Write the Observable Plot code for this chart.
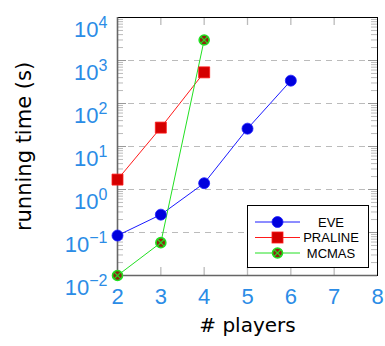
<!DOCTYPE html>
<html><head><meta charset="utf-8">
<script src="https://cdn.jsdelivr.net/npm/d3@7"></script>
<script src="https://cdn.jsdelivr.net/npm/@observablehq/plot@0.6"></script>
<style>body{margin:0;background:#fff;} #chart{width:385px;height:346px;}</style>
</head><body><div id="chart"></div>
<script>
// ---- data ----
const seriesNames = ["EVE", "PRALINE", "MCMAS"];
const evePlayers = [2, 3, 4, 5, 6];
const eveTimes = [0.085, 0.26, 1.4, 26, 340];
const pralinePlayers = [2, 3, 4];
const pralineTimes = [1.7, 27.5, 530];
const mcmasPlayers = [2, 3, 4];
const mcmasTimes = [0.01, 0.058, 3000];
const xTicks = [2, 3, 4, 5, 6, 7, 8];
const yTicks = [0.01, 0.1, 1, 10, 100, 1000, 10000];
const yTickLabels = ["10^\u22122", "10^\u22121", "10^0", "10^1", "10^2", "10^3", "10^4"];
const xLabel = "# players";
const yLabel = "running time (s)";

// ---- layout / style ----
const W = 385, H = 346, mL = 117, mR = 8, mT = 17, mB = 71;
const plotW = W - mL - mR, plotH = H - mT - mB;
const tickBlue = "#2b8ce6";
const tickFont = "Liberation Sans";
const colors = {EVE: {line: "#1a1aff", fill: "#0000dd"}, PRALINE: {line: "#ff1a1a", fill: "#d40000"}, MCMAS: {line: "#22e022", fill: "#8b2a10"}};

const eve = evePlayers.map((p, i) => ({p, t: eveTimes[i]}));
const praline = pralinePlayers.map((p, i) => ({p, t: pralineTimes[i]}));
const mcmas = mcmasPlayers.map((p, i) => ({p, t: mcmasTimes[i]}));

const minor = [];
for (let k = 0; k < yTicks.length - 1; k++) for (let m = 2; m <= 9; m++) minor.push(yTicks[k] * m);
const majorInner = yTicks.slice(1, -1);
const xInner = xTicks.slice(1, -1);

const chart = Plot.plot({
  width: W, height: H, marginLeft: mL, marginRight: mR, marginTop: mT, marginBottom: mB,
  style: {fontFamily: "DejaVu Sans", background: "white"},
  x: {domain: [2, 8]},
  y: {type: "log", domain: [0.01, 10000]},
  marks: [
    Plot.ruleY(majorInner, {stroke: "#bbb", strokeDasharray: "6,5", strokeWidth: 1.2}),
    Plot.ruleY(minor, {stroke: "#bbb", insetRight: plotW - 6}),
    Plot.ruleY(minor, {stroke: "#bbb", insetLeft: plotW - 6}),
    Plot.ruleY(majorInner, {stroke: "#999", insetRight: plotW - 9}),
    Plot.ruleY(majorInner, {stroke: "#999", insetLeft: plotW - 9}),
    Plot.ruleX(xInner, {stroke: "#bbb", strokeWidth: 1.3, insetTop: plotH - 8}),
    Plot.ruleX(xInner, {stroke: "#bbb", strokeWidth: 1.3, insetBottom: plotH - 8}),
    Plot.frame({stroke: "black"}),
    Plot.ruleX([2], {stroke: "#666", strokeWidth: 1.6}),
    Plot.ruleY([0.01], {stroke: "#666", strokeWidth: 1.6}),
    Plot.line(eve, {x: "p", y: "t", stroke: colors.EVE.line, strokeWidth: 1}),
    Plot.line(praline, {x: "p", y: "t", stroke: colors.PRALINE.line, strokeWidth: 1}),
    Plot.line(mcmas, {x: "p", y: "t", stroke: colors.MCMAS.line, strokeWidth: 1}),
    Plot.dot(eve, {x: "p", y: "t", r: 5.5, fill: colors.EVE.fill, stroke: colors.EVE.line, strokeWidth: 0.8}),
    Plot.dot(praline, {x: "p", y: "t", r: 6.2, symbol: "square", fill: colors.PRALINE.fill, stroke: colors.PRALINE.line, strokeWidth: 0.8}),
    Plot.dot(mcmas, {x: "p", y: "t", r: 5, fill: colors.MCMAS.fill, stroke: colors.MCMAS.line, strokeWidth: 1.6}),
    Plot.dot(mcmas, {x: "p", y: "t", r: 3.2, symbol: "times", stroke: colors.MCMAS.line, strokeWidth: 1.2}),
    Plot.axisX(xTicks, {tickSize: 0, tickPadding: 13, fontSize: 22, fontFamily: tickFont, fill: tickBlue, label: null}),
    Plot.axisY(yTicks, {tickSize: 0, tickPadding: 10, fontSize: 22, fontFamily: tickFont, fill: tickBlue, label: null,
      tickFormat: d => yTickLabels[yTicks.indexOf(d)]}),
    Plot.text([xLabel], {text: d => d, frameAnchor: "bottom", dy: 56, fontSize: 20, fill: "black"}),
    Plot.text([yLabel], {text: d => d, frameAnchor: "left", textAnchor: "middle", rotate: -90, dx: -93, fontSize: 21, fill: "black"})
  ]
});
document.getElementById("chart").appendChild(chart);

// superscripts on y tick labels
const svg = d3.select(chart.tagName.toLowerCase() === "svg" ? chart : chart.querySelector("svg"));
svg.selectAll('g[aria-label="y-axis tick label"] text').each(function() {
  const s = this.textContent;
  const [base, exp] = s.split("^");
  const t = d3.select(this);
  t.text(null).attr("dy", "0.58em");
  t.append("tspan").text(base);
  t.append("tspan").attr("font-size", 16).attr("dy", -9).text(exp);
});

// legend
const lg = svg.append("g").attr("font-family", tickFont).attr("font-size", 13);
lg.append("rect").attr("x", 247.5).attr("y", 205.5).attr("width", 121).attr("height", 62)
  .attr("fill", "white").attr("stroke", "black").attr("stroke-width", 1);
const rowsY = [222, 237.5, 253];
seriesNames.forEach((name, i) => {
  const y = rowsY[i], c = colors[name];
  lg.append("line").attr("x1", 255).attr("x2", 300).attr("y1", y).attr("y2", y).attr("stroke", c.line).attr("stroke-width", 1);
  if (name === "EVE") {
    lg.append("circle").attr("cx", 277.5).attr("cy", y).attr("r", 5.5).attr("fill", c.fill).attr("stroke", c.line).attr("stroke-width", 0.8);
  } else if (name === "PRALINE") {
    lg.append("rect").attr("x", 272).attr("y", y - 5.5).attr("width", 11).attr("height", 11).attr("fill", c.fill).attr("stroke", c.line).attr("stroke-width", 0.8);
  } else {
    lg.append("circle").attr("cx", 277.5).attr("cy", y).attr("r", 5).attr("fill", c.fill).attr("stroke", c.line).attr("stroke-width", 1.6);
    lg.append("path").attr("transform", `translate(277.5,${y})`).attr("d", d3.symbol(d3.symbolTimes, Math.PI * 3.2 * 3.2)()).attr("stroke", c.line).attr("stroke-width", 1.2).attr("fill", "none");
  }
  lg.append("text").attr("x", 331).attr("y", y).attr("dy", "0.36em").attr("text-anchor", "middle").text(name);
});
</script>
</body></html>
